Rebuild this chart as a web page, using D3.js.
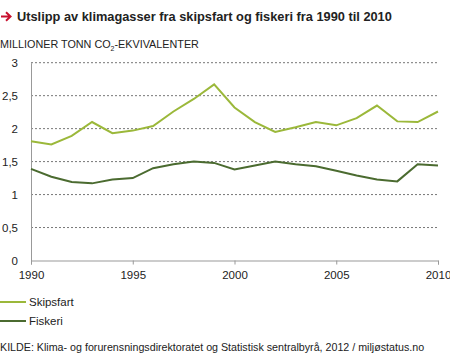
<!DOCTYPE html>
<html><head><meta charset="utf-8">
<script src="https://cdn.jsdelivr.net/npm/d3@7"></script>
<style>
body{margin:0;background:#fff;}
text{font-family:"Liberation Sans",Arial,sans-serif;}
</style></head>
<body><svg id="c" width="450" height="363"></svg>
<script>
const years = d3.range(1990, 2011);
const skipsfart = [1.81,1.76,1.89,2.10,1.93,1.97,2.04,2.26,2.45,2.67,2.32,2.10,1.95,2.02,2.10,2.05,2.16,2.35,2.11,2.10,2.26];
const fiskeri = [1.39,1.27,1.19,1.17,1.23,1.25,1.40,1.46,1.50,1.48,1.38,1.44,1.50,1.46,1.43,1.36,1.29,1.23,1.20,1.46,1.44];
const yTicks = [0,0.5,1,1.5,2,2.5,3];
const xTicks = [1990,1995,2000,2005,2010];
const seriesNames = ["Skipsfart","Fiskeri"];
const colors = ["#9bb83a","#4b6b30"];

const svg = d3.select("#c");
const x = d3.scaleLinear().domain([1990,2010]).range([31,438]);
const y = d3.scaleLinear().domain([0,3]).range([260.5,62.7]);

// Title arrow
svg.append("path").attr("d","M1,16.5H10M6,12.3L10.5,16.5L6,20.7")
  .attr("fill","none").attr("stroke","#c8102e").attr("stroke-width",2);
svg.append("text").attr("x",17).attr("y",21).attr("font-size",12.8).attr("font-weight","bold").attr("fill","#222")
  .text("Utslipp av klimagasser fra skipsfart og fiskeri fra 1990 til 2010");

const st = svg.append("text").attr("x",0).attr("y",48).attr("font-size",10.8).attr("fill","#222");
st.append("tspan").text("MILLIONER TONN CO");
st.append("tspan").attr("font-size",7).attr("dy",3).text("2");
st.append("tspan").attr("dy",-3).text("-EKVIVALENTER");

// grid
svg.append("g").selectAll("line").data(yTicks.filter(d=>d>0)).join("line")
  .attr("x1",31).attr("x2",438).attr("y1",d=>y(d)).attr("y2",d=>y(d))
  .attr("stroke","#777").attr("stroke-width",1).attr("stroke-dasharray","2,2");

// y axis
const ya = svg.append("g").attr("transform","translate(31,0)")
  .call(d3.axisLeft(y).tickValues(yTicks).tickSize(0).tickPadding(13)
  .tickFormat(d=>String(d).replace(".",",")));
ya.select(".domain").attr("stroke","#999");
ya.selectAll("text").attr("font-size",11.5).attr("fill","#222").style("font-family","Liberation Sans, Arial, sans-serif");

// x axis
const xa = svg.append("g").attr("transform","translate(0,"+y(0)+")")
  .call(d3.axisBottom(x).tickValues(xTicks).tickSize(4).tickPadding(6).tickFormat(d3.format("d")));
xa.select(".domain").attr("stroke","#999");
xa.selectAll("line").attr("stroke","#999");
xa.selectAll("text").attr("font-size",11.5).attr("fill","#222").style("font-family","Liberation Sans, Arial, sans-serif");

// lines
const data = [skipsfart, fiskeri];
const line = d3.line().x((d,i)=>x(years[i])).y(d=>y(d));
svg.append("g").selectAll("path").data(data).join("path")
  .attr("d",line).attr("fill","none").attr("stroke",(d,i)=>colors[i]).attr("stroke-width",2);

// legend
const lg = svg.append("g").selectAll("g").data(seriesNames).join("g")
  .attr("transform",(d,i)=>"translate(0,"+(302+i*19)+")");
lg.append("line").attr("x1",0).attr("x2",26).attr("stroke",(d,i)=>colors[i]).attr("stroke-width",2);
lg.append("text").attr("x",29).attr("y",4).attr("font-size",11.5).attr("fill","#222").text(d=>d);

svg.append("text").attr("x",0).attr("y",351).attr("font-size",10.7).attr("fill","#222")
  .text("KILDE: Klima- og forurensningsdirektoratet og Statistisk sentralbyrå, 2012 / miljøstatus.no");
</script></body></html>
